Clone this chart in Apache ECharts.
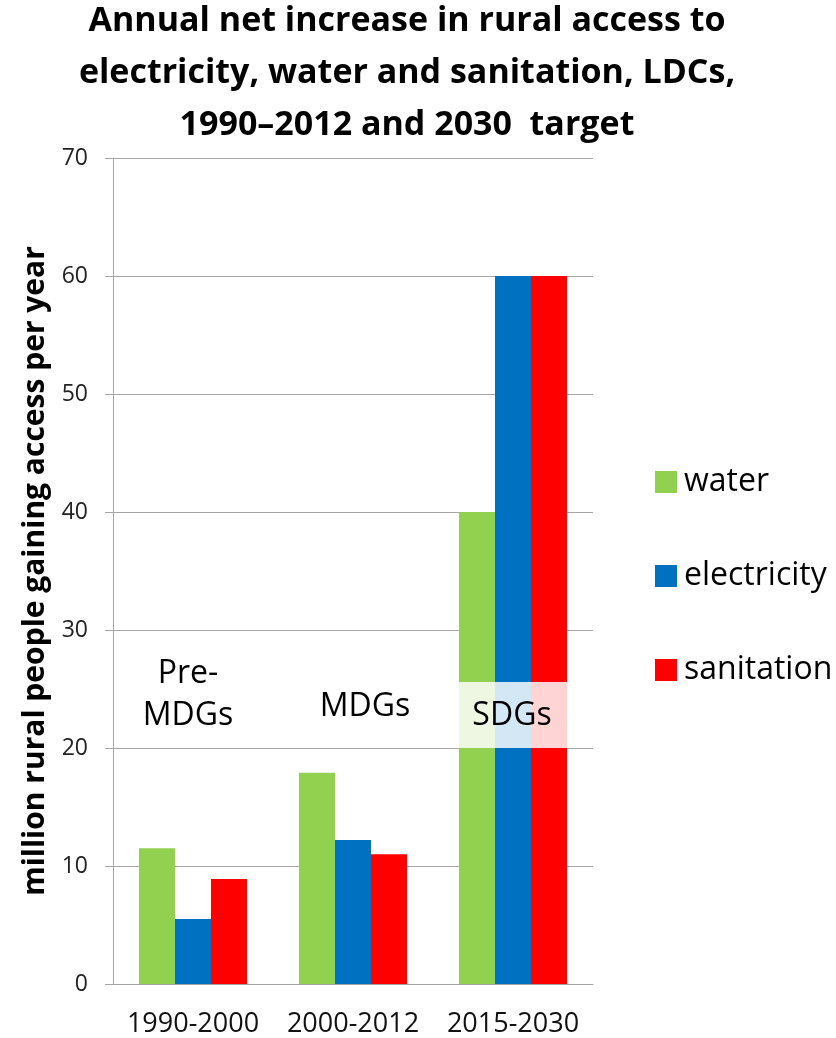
<!DOCTYPE html>
<html>
<head>
<meta charset="utf-8">
<script src="https://cdn.jsdelivr.net/npm/echarts@6/dist/echarts.min.js"></script>
<style>
html,body{margin:0;padding:0;background:#fff;}
#chart{width:836px;height:1038px;}
</style>
</head>
<body>
<div id="chart"></div>
<script>
const categories = ['1990-2000', '2000-2012', '2015-2030'];
const water = [11.5, 17.9, 40];
const electricity = [5.5, 12.2, 60];
const sanitation = [8.9, 11.0, 60];
const phaseLabels = ['Pre-\nMDGs', 'MDGs', 'SDGs'];
const phaseLabelValues = [24.5, 23.5, 22.7];
const sdgBoxRange = [20, 25.6];
const yTicks = [0, 10, 20, 30, 40, 50, 60, 70];

const FONT = 'Open Sans';
const BAR_W = 36;
const labelOffsetX = [-5, 12, -1];

const chart = echarts.init(document.getElementById('chart'), null, {renderer: 'canvas'});

const option = {
  animation: false,
  backgroundColor: '#ffffff',
  graphic: [{
    type: 'text',
    x: 407, y: -5,
    style: {
      text: 'Annual net increase in rural access to\nelectricity, water and sanitation, LDCs,\n1990\u20132012 and 2030  target',
      font: 'bold 34px "' + FONT + '"',
      fill: '#000',
      lineHeight: 52,
      align: 'center',
      verticalAlign: 'top'
    }
  }],
  legend: {
    orient: 'vertical',
    left: 650,
    top: 461,
    itemWidth: 22,
    itemHeight: 22,
    itemGap: 62,
    icon: 'rect',
    data: ['water', 'electricity', 'sanitation'],
    textStyle: {fontFamily: FONT, fontSize: 32, lineHeight: 32, color: '#000', padding: [0, 0, 0, 2]}
  },
  grid: {left: 113, right: 243, top: 158, bottom: 53, containLabel: false},
  xAxis: {
    type: 'category',
    data: categories,
    axisLine: {lineStyle: {color: '#a6a6a6', width: 1}},
    axisTick: {show: false},
    axisLabel: {fontFamily: FONT, fontSize: 27, color: '#111', margin: 27, interval: 0, hideOverlap: false}
  },
  yAxis: {
    type: 'value',
    min: yTicks[0],
    max: yTicks[yTicks.length - 1],
    interval: 10,
    name: 'million rural people gaining access per year',
    nameLocation: 'middle',
    nameGap: 61,
    nameTextStyle: {fontFamily: FONT, fontSize: 30, fontWeight: 'bold', color: '#000'},
    axisLine: {show: true, lineStyle: {color: '#a6a6a6', width: 1}},
    axisTick: {show: true, length: 8, lineStyle: {color: '#a6a6a6'}},
    splitLine: {show: true, lineStyle: {color: '#a6a6a6', width: 1}},
    axisLabel: {fontFamily: FONT, fontSize: 23, color: '#222', margin: 25}
  },
  series: [
    {name: 'water', type: 'bar', data: water, barWidth: BAR_W, barGap: '0%', itemStyle: {color: '#92d050'}},
    {name: 'electricity', type: 'bar', data: electricity, barWidth: BAR_W, barGap: '0%', itemStyle: {color: '#0070c0'}},
    {name: 'sanitation', type: 'bar', data: sanitation, barWidth: BAR_W, barGap: '0%', itemStyle: {color: '#ff0000'}},
    {
      name: 'phases',
      type: 'custom',
      z: 10,
      silent: true,
      data: phaseLabels.map((t, i) => [i, phaseLabelValues[i]]),
      renderItem: function (params, api) {
        const i = params.dataIndex;
        const cat = api.value(0);
        const p = api.coord([cat, api.value(1)]);
        const children = [];
        if (i === 2) {
          const top = api.coord([cat, sdgBoxRange[1]]);
          const bot = api.coord([cat, sdgBoxRange[0]]);
          children.push({
            type: 'rect',
            shape: {x: top[0] - BAR_W * 1.5, y: top[1], width: BAR_W * 3, height: bot[1] - top[1]},
            style: {fill: 'rgba(255,255,255,0.83)'}
          });
        }
        children.push({
          type: 'text',
          x: p[0] + labelOffsetX[i],
          y: p[1],
          style: {
            text: phaseLabels[i],
            font: '32px "' + FONT + '"',
            fill: '#000',
            lineHeight: 42,
            align: 'center',
            verticalAlign: 'middle'
          }
        });
        return {type: 'group', children: children};
      }
    }
  ]
};
chart.setOption(option);
</script>
</body>
</html>
